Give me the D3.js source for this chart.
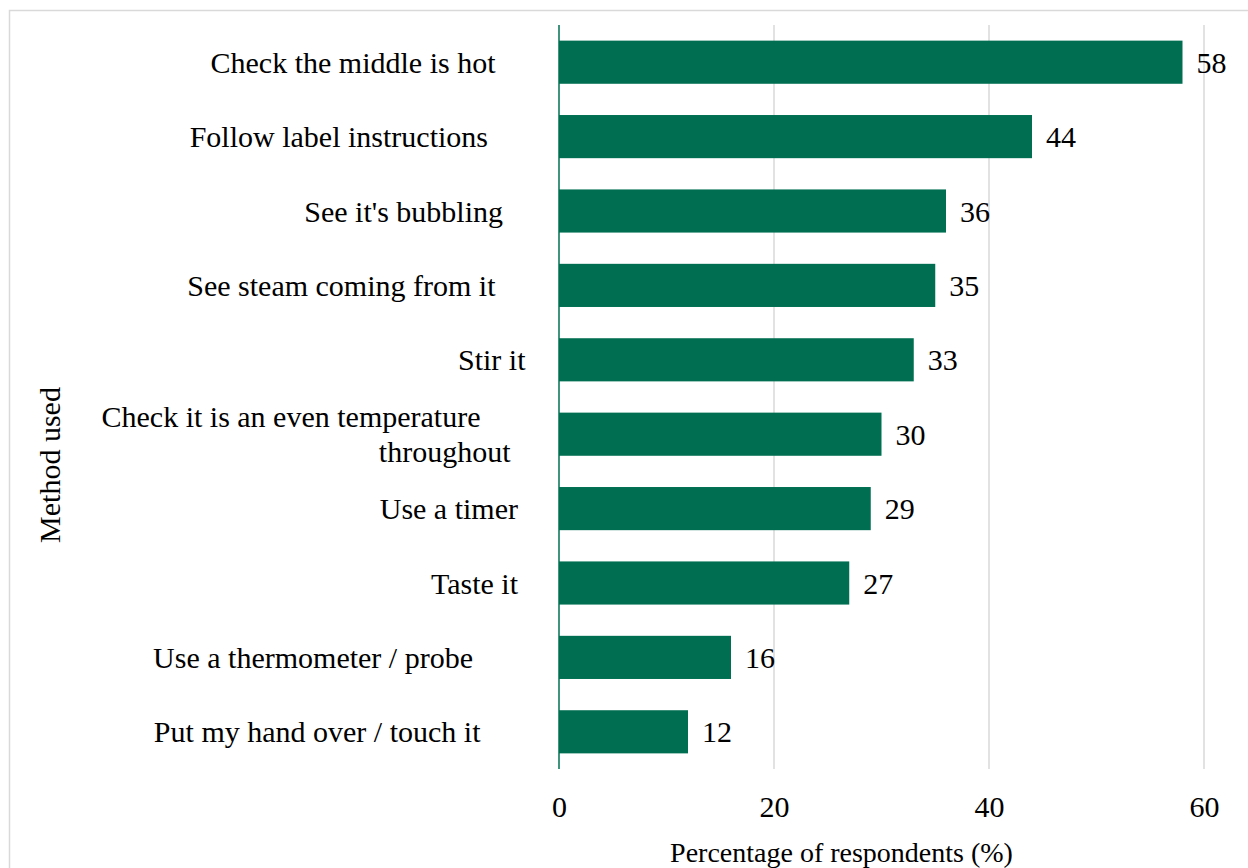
<!DOCTYPE html>
<html><head><meta charset="utf-8">
<script src="https://cdn.jsdelivr.net/npm/d3@7"></script>
<style>
html,body{margin:0;padding:0;background:#fff;}
svg text{font-family:"Liberation Serif","Times New Roman",serif;fill:#000;white-space:pre;}
</style></head>
<body>
<svg id="c" width="1248" height="868"></svg>
<script>
const categories = [
  "Check the middle is hot     ",
  "Follow label instructions      ",
  "See it's bubbling    ",
  "See steam coming from it     ",
  "Stir it ",
  "Check it is an even temperature       \nthroughout   ",
  "Use a timer  ",
  "Taste it  ",
  "Use a thermometer / probe        ",
  "Put my hand over / touch it       "
];
const values = [58, 44, 36, 35, 33, 30, 29, 27, 16, 12];
const xTicks = [0, 20, 40, 60];
const xTitle = "Percentage of respondents (%)";
const yTitle = "Method used";

const svg = d3.select("#c");
const fs = 30;
const green = "#006f51";

svg.append("rect").attr("x",9.5).attr("y",10.5).attr("width",1260).attr("height",900)
  .attr("fill","none").attr("stroke","#d9d9d9").attr("stroke-width",1.5);

const x = d3.scaleLinear().domain([0,60]).range([559,1204]);
const y = d3.scaleBand().domain(d3.range(categories.length)).range([25,769]).paddingInner(0.42).paddingOuter(0.21);

// gridlines
svg.append("g").selectAll("line").data(xTicks.filter(t=>t>0)).join("line")
  .attr("x1",d=>x(d)).attr("x2",d=>x(d)).attr("y1",25).attr("y2",769)
  .attr("stroke","#d9d9d9").attr("stroke-width",1.5);

// bars
svg.append("g").selectAll("rect").data(values).join("rect")
  .attr("x",x(0)).attr("y",(d,i)=>y(i)).attr("width",d=>x(d)-x(0)).attr("height",y.bandwidth())
  .attr("fill",green);

// axis line
svg.append("line").attr("x1",x(0)).attr("x2",x(0)).attr("y1",25).attr("y2",769)
  .attr("stroke",green).attr("stroke-width",1.5);

// value labels
svg.append("g").selectAll("text").data(values).join("text")
  .attr("x",d=>x(d)+14).attr("y",(d,i)=>y(i)+y.bandwidth()/2).attr("dy","0.35em")
  .attr("font-size",fs).text(d=>d);

// category labels
const cl = svg.append("g").selectAll("text").data(categories).join("text")
  .attr("text-anchor","end").attr("font-size",fs)
  .attr("y",(d,i)=>y(i)+y.bandwidth()/2);
cl.each(function(d){
  const lines = d.split("\n");
  const t = d3.select(this);
  const lh = 35;
  lines.forEach((ln,j)=>{
    t.append("tspan").attr("x",533)
     .attr("dy", j===0 ? ((-(lines.length-1)/2)*lh + 0.35*fs) : lh)
     .text(ln);
  });
});

// x axis ticks
const xAxis = d3.axisBottom(x).tickValues(xTicks).tickSize(0).tickPadding(0);
const gx = svg.append("g").attr("transform","translate(0,796)").call(xAxis);
gx.select(".domain").remove();
gx.selectAll("text").attr("font-size",fs).attr("font-family",null).attr("dy","0.71em");

// titles
svg.append("text").attr("x",(673+1010)/2).attr("y",862).attr("text-anchor","middle")
  .attr("font-size",28).text(xTitle);
svg.append("text").attr("transform","translate(60,465) rotate(-90)").attr("text-anchor","middle")
  .attr("font-size",fs).text(yTitle);
</script>
</body></html>
